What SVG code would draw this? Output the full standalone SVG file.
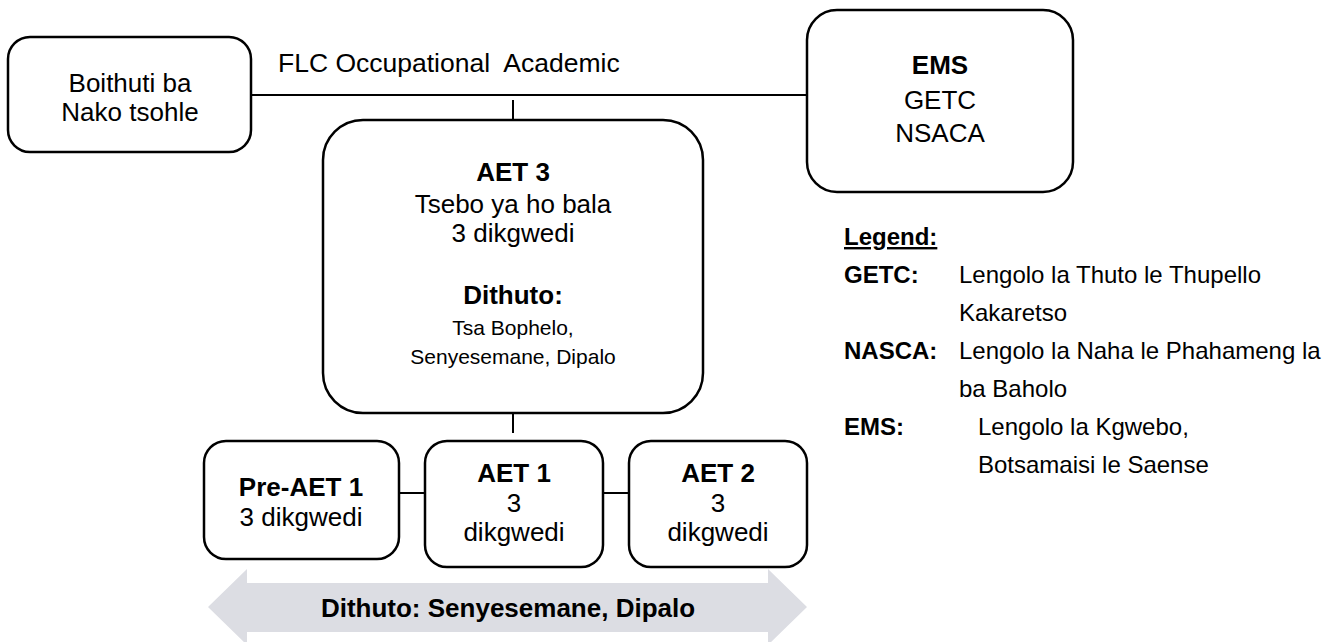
<svg xmlns="http://www.w3.org/2000/svg" width="1334" height="642" viewBox="0 0 1334 642">
<style>
  .box{fill:#fff;stroke:#000;stroke-width:2.5}
  .ln{stroke:#000;stroke-width:2;fill:none}
  text{font-family:"Liberation Sans",Arial,sans-serif;fill:#000}
  .t{font-size:26px;text-anchor:middle}
  .s{font-size:21px;text-anchor:middle}
  .b{font-weight:bold}
  .lg{font-size:24px}
</style>
<rect width="1334" height="642" fill="#fff"/>
<g id="connectors">
  <line class="ln" x1="251" y1="95" x2="807" y2="95"/>
  <line class="ln" x1="513" y1="100" x2="513" y2="120"/>
  <line class="ln" x1="513" y1="413" x2="513" y2="433"/>
  <line class="ln" x1="399" y1="493" x2="425" y2="493"/>
  <line class="ln" x1="603" y1="493" x2="629" y2="493"/>
</g>
<g id="flc-label">
  <text x="278" y="72" style="font-size:26.5px" xml:space="preserve">FLC Occupational  Academic</text>
</g>
<g id="boithuti">
  <rect class="box" x="8" y="37" width="243" height="115" rx="22"/>
  <text class="t" x="130" y="92">Boithuti ba</text>
  <text class="t" x="130" y="121">Nako tsohle</text>
</g>
<g id="ems">
  <rect class="box" x="807" y="10" width="266" height="182" rx="30"/>
  <text class="t b" x="940" y="74">EMS</text>
  <text class="t" x="940" y="109">GETC</text>
  <text class="t" x="940" y="142">NSACA</text>
</g>
<g id="aet3">
  <rect class="box" x="323" y="120" width="380" height="293" rx="40"/>
  <text class="t b" x="513" y="181">AET 3</text>
  <text class="t" x="513" y="213">Tsebo ya ho bala</text>
  <text class="t" x="513" y="242">3 dikgwedi</text>
  <text class="t b" x="513" y="304">Dithuto:</text>
  <text class="s" x="513" y="335">Tsa Bophelo,</text>
  <text class="s" x="513" y="364">Senyesemane, Dipalo</text>
</g>
<g id="pre-aet1">
  <rect class="box" x="204" y="441" width="195" height="118" rx="22"/>
  <text class="t b" x="301" y="496">Pre-AET 1</text>
  <text class="t" x="301" y="526">3 dikgwedi</text>
</g>
<g id="aet1">
  <rect class="box" x="425" y="441" width="178" height="126" rx="22"/>
  <text class="t b" x="514" y="482">AET 1</text>
  <text class="t" x="514" y="512">3</text>
  <text class="t" x="514" y="541">dikgwedi</text>
</g>
<g id="aet2">
  <rect class="box" x="629" y="441" width="178" height="126" rx="22"/>
  <text class="t b" x="718" y="482">AET 2</text>
  <text class="t" x="718" y="512">3</text>
  <text class="t" x="718" y="541">dikgwedi</text>
</g>
<g id="subjects-arrow">
  <polygon points="208,607 247,569 247,583 768,583 768,569 807,607 768,645 768,632 247,632 247,645" fill="#dcdde3"/>
  <text class="t b" x="508" y="617">Dithuto: Senyesemane, Dipalo</text>
</g>
<g id="legend">
  <text class="lg b" x="844" y="245" text-decoration="underline">Legend:</text>
  <text class="lg b" x="844" y="283">GETC:</text>
  <text class="lg" x="959" y="283">Lengolo la Thuto le Thupello</text>
  <text class="lg" x="959" y="321">Kakaretso</text>
  <text class="lg b" x="844" y="359">NASCA:</text>
  <text class="lg" x="959" y="359">Lengolo la Naha le Phahameng la</text>
  <text class="lg" x="959" y="397">ba Baholo</text>
  <text class="lg b" x="844" y="435">EMS:</text>
  <text class="lg" x="978" y="435">Lengolo la Kgwebo,</text>
  <text class="lg" x="978" y="473">Botsamaisi le Saense</text>
</g>
</svg>
